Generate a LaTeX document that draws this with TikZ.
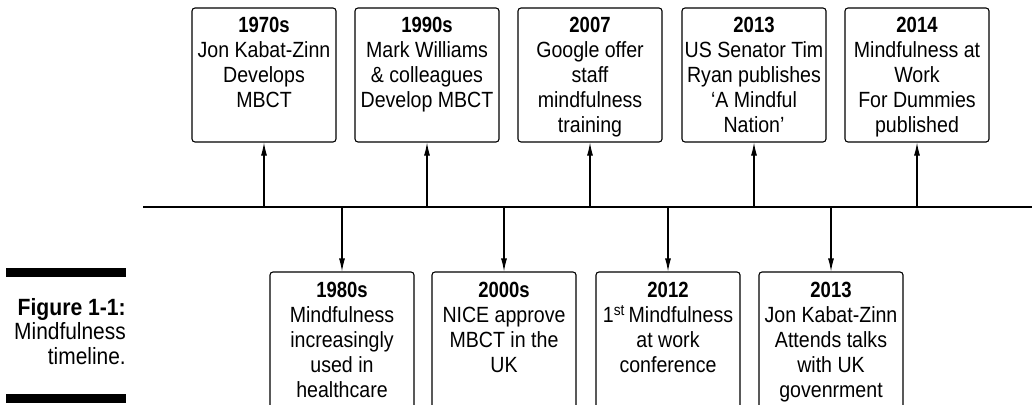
\documentclass[tikz,border=0pt]{standalone}
\usepackage{fontspec}
\setmainfont{Liberation Sans}[FakeStretch=0.89]
\newfontfamily\hd[FakeStretch=0.84]{Liberation Sans Bold}
\newfontfamily\hdc[FakeStretch=0.9]{Liberation Sans Bold}
\usetikzlibrary{arrows.meta}
\begin{document}
\begin{tikzpicture}[x=1pt,y=-1pt,
  box/.style={draw,line width=1.1pt,rounded corners=3pt,minimum width=144pt,minimum height=134pt,inner sep=0pt},
  lowbox/.style={box,minimum height=160pt},
  txt/.style={anchor=north,align=center,inner sep=0pt,font=\fontsize{22}{25}\selectfont},
  arr/.style={line width=1.1pt,-{Latex[length=13pt,width=6pt]}},
  bar/.style={fill=black,draw=none}]
\clip (0,0) rectangle (1032,404);
% caption
\fill[bar] (6,268) rectangle (126,277);
\fill[bar] (6,394) rectangle (126,403);
\node[anchor=north east,align=right,inner sep=0pt,font=\fontsize{23.5}{24.5}\selectfont] (cap) at (126,298) {{\hdc Figure 1-1:}\\Mindfulness\\timeline.};
% timeline
\coordinate (L) at (143,207);
\coordinate (R) at (1032,207);
\draw[line width=1.1pt] (L) -- (R);
% top boxes
\node[box] (b1) at (264,75) {};
\node[box] (b2) at (427,75) {};
\node[box] (b3) at (590,75) {};
\node[box] (b4) at (754,75) {};
\node[box] (b5) at (917,75) {};
\node[txt] (t1) at (264,17) {{\hd 1970s}\\Jon Kabat-Zinn\\Develops\\MBCT};
\node[txt] (t2) at (427,17) {{\hd 1990s}\\Mark Williams\\\& colleagues\\Develop MBCT};
\node[txt] (t3) at (590,17) {{\hd 2007}\\Google offer\\staff\\mindfulness\\training};
\node[txt] (t4) at (754,17) {{\hd 2013}\\US Senator Tim\\Ryan publishes\\‘A Mindful\\Nation’};
\node[txt] (t5) at (917,17) {{\hd 2014}\\Mindfulness at\\Work\\For Dummies\\published};
% bottom boxes
\node[lowbox] (b6) at (342,352) {};
\node[lowbox] (b7) at (504,352) {};
\node[lowbox] (b8) at (668,352) {};
\node[lowbox] (b9) at (831,352) {};
\node[txt] (t6) at (342,282) {{\hd 1980s}\\Mindfulness\\increasingly\\used in\\healthcare};
\node[txt] (t7) at (504,282) {{\hd 2000s}\\NICE approve\\MBCT in the\\UK};
\node[txt] (t8) at (668,282) {{\hd 2012}\\1\textsuperscript{st}\,Mindfulness\\at work\\conference};
\node[txt] (t9) at (831,282) {{\hd 2013}\\Jon Kabat-Zinn\\Attends talks\\with UK\\govenrment};
% timeline points
\coordinate (p1) at (264,207);
\coordinate (p2) at (427,207);
\coordinate (p3) at (590,207);
\coordinate (p4) at (754,207);
\coordinate (p5) at (917,207);
\coordinate (p6) at (342,207);
\coordinate (p7) at (504,207);
\coordinate (p8) at (668,207);
\coordinate (p9) at (831,207);
\draw[arr] (p1) -- (b1.south);
\draw[arr] (p2) -- (b2.south);
\draw[arr] (p3) -- (b3.south);
\draw[arr] (p4) -- (b4.south);
\draw[arr] (p5) -- (b5.south);
\draw[arr] (p6) -- (b6.north);
\draw[arr] (p7) -- (b7.north);
\draw[arr] (p8) -- (b8.north);
\draw[arr] (p9) -- (b9.north);
\end{tikzpicture}
\end{document}
